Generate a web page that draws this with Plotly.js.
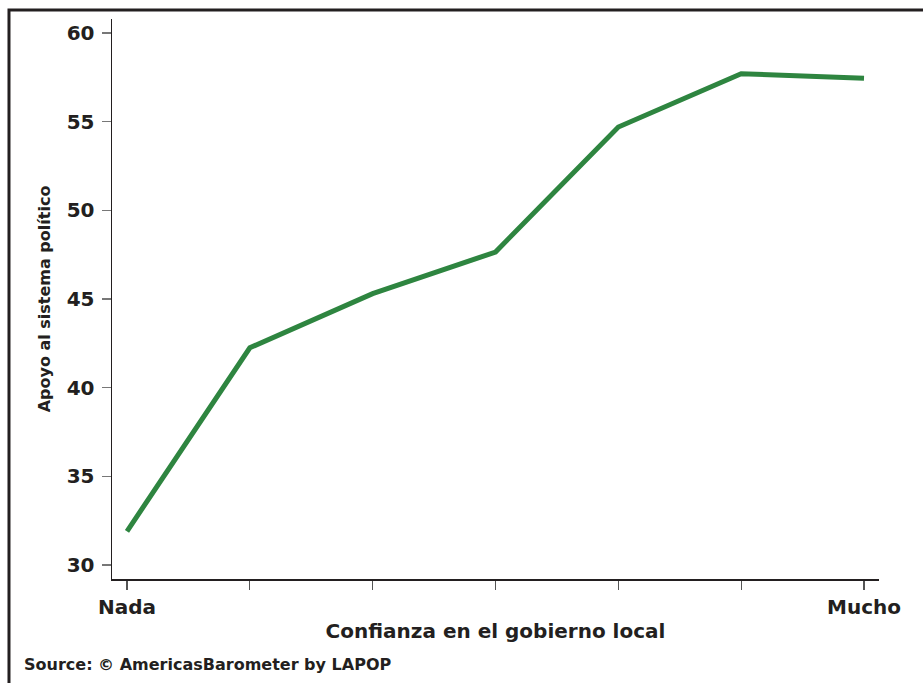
<!DOCTYPE html>
<html>
<head>
<meta charset="utf-8">
<script src="https://cdn.plot.ly/plotly-3.0.1.min.js"></script>
<style>html,body{margin:0;padding:0;background:#fff;}#chart{width:923px;height:683px;}</style>
</head>
<body>
<div id="chart"></div>
<script>
const levels = [1, 2, 3, 4, 5, 6, 7];
const tickLabels = ['Nada', '', '', '', '', '', 'Mucho'];
const apoyo = [31.9, 42.25, 45.3, 47.65, 54.7, 57.7, 57.45];
const yTicks = [30, 35, 40, 45, 50, 55, 60];

const FONT = 'DejaVu Sans, Liberation Sans, Arial, sans-serif';
const DARK = '#231f20';

const trace = {
  x: levels,
  y: apoyo,
  type: 'scatter',
  mode: 'lines',
  line: {color: '#2e8540', width: 5},
  hoverinfo: 'x+y'
};

const layout = {
  width: 923,
  height: 683,
  margin: {l: 112, r: 44, t: 19, b: 104},
  paper_bgcolor: '#ffffff',
  plot_bgcolor: '#ffffff',
  showlegend: false,
  font: {family: FONT, color: DARK},
  xaxis: {
    range: [0.878, 7.122],
    tickmode: 'array',
    tickvals: levels,
    ticktext: tickLabels,
    ticks: 'outside',
    ticklen: 9,
    tickwidth: 1.2,
    tickcolor: '#555',
    showline: true,
    linecolor: DARK,
    linewidth: 1.5,
    showgrid: false,
    zeroline: false,
    tickfont: {family: FONT, size: 20, weight: 'bold', color: DARK},
    title: {text: 'Confianza en el gobierno local', font: {family: FONT, size: 20, weight: 'bold', color: DARK}, standoff: 6}
  },
  yaxis: {
    range: [29.21, 60.79],
    tickmode: 'array',
    tickvals: yTicks,
    ticks: 'outside',
    ticklen: 9,
    tickwidth: 1.2,
    tickcolor: '#777',
    showline: true,
    linecolor: DARK,
    linewidth: 1.5,
    showgrid: false,
    zeroline: false,
    tickfont: {family: FONT, size: 20, weight: 'bold', color: DARK},
    ticklabelstandoff: 3,
    title: {text: 'Apoyo al sistema político', font: {family: FONT, size: 16, weight: 'bold', color: DARK}, standoff: 12}
  },
  shapes: [{
    type: 'rect', xref: 'paper', yref: 'paper',
    x0: -0.1343, x1: 1.08, y0: -0.25, y1: 1.016,
    line: {color: DARK, width: 3}
  }],
  annotations: [{
    text: 'Source: © AmericasBarometer by LAPOP',
    xref: 'paper', yref: 'paper',
    x: -0.1173, y: -0.153,
    xanchor: 'left', yanchor: 'middle',
    showarrow: false,
    font: {family: FONT, size: 16, weight: 'bold', color: DARK}
  }]
};

Plotly.newPlot('chart', [trace], layout, {displayModeBar: false, staticPlot: true});
</script>
</body>
</html>
